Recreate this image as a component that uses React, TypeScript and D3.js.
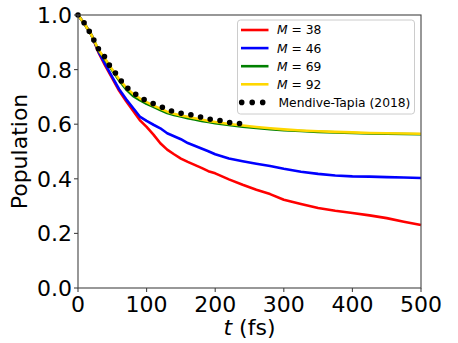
import React from "react";
import * as d3 from "d3";

const times = [0, 10, 20, 30, 40, 50, 60, 70, 80, 90, 100, 110, 120, 130, 140, 150, 160, 170, 180, 190, 200, 220, 240, 260, 280, 300, 325, 350, 375, 400, 425, 450, 475, 500];

const m38 = [1.0, 0.965, 0.925, 0.862, 0.813, 0.768, 0.722, 0.685, 0.650, 0.615, 0.590, 0.562, 0.530, 0.507, 0.490, 0.474, 0.462, 0.451, 0.440, 0.428, 0.420, 0.398, 0.378, 0.360, 0.344, 0.323, 0.308, 0.293, 0.283, 0.275, 0.266, 0.256, 0.243, 0.231];
const m46 = [1.0, 0.965, 0.925, 0.865, 0.818, 0.772, 0.728, 0.692, 0.660, 0.628, 0.612, 0.598, 0.585, 0.567, 0.556, 0.545, 0.531, 0.521, 0.511, 0.501, 0.490, 0.474, 0.464, 0.455, 0.447, 0.437, 0.426, 0.418, 0.412, 0.409, 0.408, 0.406, 0.405, 0.403];
const m69 = [1.0, 0.965, 0.925, 0.870, 0.835, 0.797, 0.760, 0.728, 0.704, 0.688, 0.675, 0.664, 0.652, 0.641, 0.634, 0.628, 0.622, 0.617, 0.612, 0.608, 0.604, 0.597, 0.591, 0.586, 0.582, 0.578, 0.575, 0.572, 0.570, 0.568, 0.566, 0.565, 0.564, 0.563];
const m92 = [1.0, 0.965, 0.925, 0.872, 0.838, 0.800, 0.765, 0.735, 0.712, 0.695, 0.681, 0.668, 0.657, 0.646, 0.638, 0.632, 0.627, 0.622, 0.617, 0.612, 0.608, 0.601, 0.595, 0.590, 0.585, 0.581, 0.577, 0.574, 0.572, 0.570, 0.568, 0.567, 0.566, 0.565];

const refTimes = [0, 10.2, 17.5, 23.8, 30.6, 39.8, 46.6, 55.8, 64.1, 73.9, 85.6, 97.2, 110.8, 124.3, 137.5, 151.6, 166.2, 179.7, 194.3, 208.5, 223.0, 237.2];
const refValues = [1.0, 0.967, 0.936, 0.905, 0.872, 0.844, 0.812, 0.784, 0.755, 0.728, 0.707, 0.689, 0.674, 0.661, 0.647, 0.639, 0.634, 0.626, 0.617, 0.613, 0.605, 0.602];

const seriesLabels = ["38", "46", "69", "92"];
const seriesColors = ["#ff0000", "#0000ff", "#008000", "#ffd700"];
const refLabel = "Mendive-Tapia (2018)";

const xTicks = [0, 100, 200, 300, 400, 500];
const yTicks = [0.0, 0.2, 0.4, 0.6, 0.8, 1.0];

export default function App() {
  const W = 458, H = 343;
  const L = 78, R = 421, T = 15, B = 288;
  const x = d3.scaleLinear().domain([0, 500]).range([L, R]);
  const y = d3.scaleLinear().domain([0, 1]).range([B, T]);
  const line = d3.line<[number, number]>().x(d => x(d[0])).y(d => y(d[1]));
  const series = [m38, m46, m69, m92];
  const font = "DejaVu Sans";
  const refPts: [number, number][] = refTimes.map((t, i) => [t, refValues[i]]);

  const legX = 237.5, legY = 20, legW = 177, legH = 94;
  const rowY = (i: number) => 30 + i * 18.1;
  const legFont = 12.3;

  return (
    <svg width={W} height={H} style={{ position: "absolute", left: 0, top: 0 }} fontFamily={font}>
      <rect x={0} y={0} width={W} height={H} fill="white" />
      {series.map((s, k) => (
        <path key={k} d={line(times.map((t, i) => [t, s[i]]) as [number, number][]) || ""} fill="none" stroke={seriesColors[k]} strokeWidth={2.6} strokeLinejoin="round" />
      ))}
      <path d={line(refPts) || ""} fill="none" stroke="black" strokeWidth={5.6} strokeDasharray="0 9.9" strokeLinecap="round" />
      {/* axes */}
      <rect x={L} y={T} width={R - L} height={B - T} fill="none" stroke="#444" strokeWidth={1.1} />
      {xTicks.map(t => (
        <g key={t}>
          <line x1={x(t)} x2={x(t)} y1={B} y2={B + 4} stroke="#444" strokeWidth={1.1} />
          <text x={x(t)} y={312} textAnchor="middle" fontSize={22}>{t}</text>
        </g>
      ))}
      {yTicks.map(v => (
        <g key={v}>
          <line x1={L - 4} x2={L} y1={y(v)} y2={y(v)} stroke="#444" strokeWidth={1.1} />
          <text x={72} y={y(v)} dy="0.36em" textAnchor="end" fontSize={22}>{v.toFixed(1)}</text>
        </g>
      ))}
      <text x={(L + R) / 2} y={335} textAnchor="middle" fontSize={22}>
        <tspan fontStyle="italic">t</tspan><tspan> (fs)</tspan>
      </text>
      <text transform={`translate(27, ${(T + B) / 2}) rotate(-90)`} textAnchor="middle" fontSize={22}>Population</text>
      {/* legend */}
      <rect x={legX} y={legY} width={legW} height={legH} rx={3} fill="white" fillOpacity={0.8} stroke="#cccccc" strokeWidth={1} />
      {seriesLabels.map((lab, i) => (
        <g key={lab}>
          <line x1={241} x2={268.5} y1={rowY(i)} y2={rowY(i)} stroke={seriesColors[i]} strokeWidth={2.6} />
          <text x={277} y={rowY(i)} dy="0.36em" fontSize={legFont}>
            <tspan fontStyle="italic">M</tspan><tspan> = {lab}</tspan>
          </text>
        </g>
      ))}
      <line x1={241.7} x2={263} y1={rowY(4)} y2={rowY(4)} stroke="black" strokeWidth={5.6} strokeDasharray="0 10.5" strokeLinecap="round" />
      <text x={278.5} y={rowY(4)} dy="0.36em" fontSize={legFont}>{refLabel}</text>
    </svg>
  );
}
